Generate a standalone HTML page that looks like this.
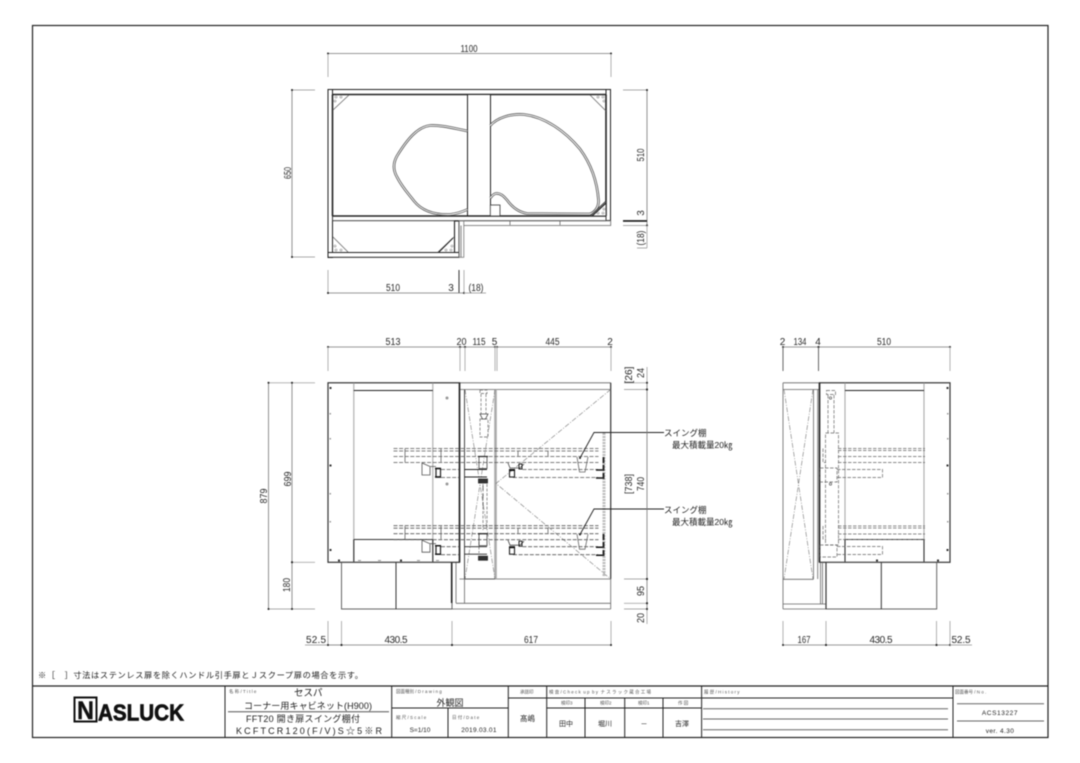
<!DOCTYPE html>
<html><head><meta charset="utf-8"><style>
html,body{margin:0;padding:0;background:#fff}
svg{display:block;filter:blur(.45px)}
text{font-family:"Liberation Sans","Noto Sans CJK JP",sans-serif;fill:#222}
.d{font-size:10px;text-anchor:middle;fill:#2a2a2a}
.s{font-size:4.5px;fill:#555}
.t{font-size:9px;text-anchor:middle}
.l{fill:none;stroke:#222;stroke-width:.9}
.m{fill:none;stroke:#666;stroke-width:.8}
.g{fill:none;stroke:#aaa;stroke-width:1.1}
.k{fill:none;stroke:#222;stroke-width:1.6}
.h{fill:none;stroke:#555;stroke-width:.8;stroke-dasharray:4 1.6}
.x{fill:none;stroke:#777;stroke-width:.6;stroke-dasharray:5 1.5 1 1.5}
.dim{fill:none;stroke:#777;stroke-width:.8;marker-start:url(#dot);marker-end:url(#dot)}
.ext{fill:none;stroke:#aaa;stroke-width:.9}
</style></head><body>
<svg xmlns="http://www.w3.org/2000/svg" width="1080" height="763" viewBox="0 0 1080 763">
<defs><marker id="dot" markerUnits="userSpaceOnUse" markerWidth="3" markerHeight="3" refX="1.5" refY="1.5"><circle cx="1.5" cy="1.5" r="1" fill="#222"/></marker></defs>
<rect width="1080" height="763" fill="#fff"/>
<rect x="32.5" y="25.5" width="1015.5" height="712" fill="none" stroke="#222" stroke-width="1.2"/>

<!-- TOP VIEW -->
<g>
<rect x="328" y="89.5" width="282.5" height="5" fill="#fff" stroke="#222" stroke-width="1"/>
<rect x="328" y="89.5" width="4.5" height="168" fill="#fff" stroke="#222" stroke-width="1"/>
<rect x="606" y="89.5" width="4.5" height="131" fill="#fff" stroke="#222" stroke-width="1"/>
<path class="k" d="M332.5 94.5H606M332.5 94.5V216M606 94.5V216"/>
<rect x="467.5" y="94.5" width="23" height="121.5" fill="#fff" stroke="#222" stroke-width="1"/>
<rect x="332.5" y="216" width="273.5" height="4.7" fill="#fff" stroke="#333" stroke-width=".9"/>
<path class="k" d="M332.5 216H606" stroke-width="1.2"/>
<rect x="454.5" y="221" width="4.5" height="31.5" fill="#fff" stroke="#222" stroke-width="1.1"/>
<rect x="328" y="252.5" width="131" height="4.8" fill="#fff" stroke="#222" stroke-width="1"/>
<path class="l" d="M332.5 221V252.5"/>
<rect x="459.2" y="221" width="4.6" height="36.3" fill="#fff" stroke="#777" stroke-width=".8"/>
<path class="m" d="M464 220.8H610.7V225.5H464M461 225.5V257"/>
<path d="M510 221v4M560 221v4" class="m"/>
<!-- shelf curves -->
<g fill="none" stroke-linejoin="round">
<path d="M467.3 131C452 128 442 125 430 125.5C418 127 408 138 397 156C393 163 393 170 397 177C402 187 407 192 414 201C422 211 434 215 450 214.5C458 213.5 462 212 467.3 209.5" stroke="#555" stroke-width="2.6"/>
<path d="M467.3 131C452 128 442 125 430 125.5C418 127 408 138 397 156C393 163 393 170 397 177C402 187 407 192 414 201C422 211 434 215 450 214.5C458 213.5 462 212 467.3 209.5" stroke="#fff" stroke-width="1"/>
<path d="M490.3 125.5C497 118 510 113.5 524 114.5C545 117 565 131 580 149C591 164 597 180 598.5 200C599 207 595 212 590 214L527 213.5C518 212 512 207 507 200C503 195 499 193 496 193.5C493 194 492 196 490.3 198" stroke="#555" stroke-width="2.6"/>
<path d="M490.3 125.5C497 118 510 113.5 524 114.5C545 117 565 131 580 149C591 164 597 180 598.5 200C599 207 595 212 590 214L527 213.5C518 212 512 207 507 200C503 195 499 193 496 193.5C493 194 492 196 490.3 198" stroke="#fff" stroke-width="1"/>
</g>
<rect x="490.3" y="205" width="9.7" height="11" fill="#fff" stroke="#333" stroke-width=".8"/>
<!-- corner brackets -->
<path class="m" d="M333 110L349 95M590 95L606 111M333 237L348 252M438 252L454 237"/>
<path d="M590 216L606 201V216Z" fill="#fff" stroke="#333" stroke-width=".9"/>
<path d="M592 216L606 203" stroke="#222" stroke-width="1.2"/>
<path d="M439 252L453 238" stroke="#222" stroke-width="1.1"/>
<g fill="none" stroke="#888" stroke-width=".6">
<circle cx="336" cy="97" r="1"/><circle cx="341" cy="97" r="1"/><circle cx="335" cy="101" r="1"/>
<circle cx="603" cy="97" r="1"/><circle cx="598" cy="97" r="1"/><circle cx="604" cy="101" r="1"/>
<circle cx="336" cy="250" r="1"/><circle cx="341" cy="250" r="1"/><circle cx="335" cy="246" r="1"/>
<circle cx="451" cy="250" r="1"/><circle cx="446" cy="250" r="1"/><circle cx="452" cy="246" r="1"/>
<circle cx="603" cy="213" r="1"/><circle cx="598" cy="213" r="1"/><circle cx="604" cy="209" r="1"/>
</g>
<!-- dims -->
<path class="dim" d="M328 53.5H611"/>
<path class="ext" d="M328 54V77M611 54V77M623 90H647M623 225.5H647M623 220.5H647M637 248H647"/>
<path class="dim" d="M647 90V225.5"/><path class="ext" d="M647 225.5V248"/>
<path d="M623 221H647" stroke="#111" stroke-width="1.5"/>
<path class="ext" d="M292 90H315M292 257H315"/><path class="dim" d="M292 90V257"/>
<path class="ext" d="M328 270V293M459 270V293M464 270V293"/>
<path d="M459 270V293" stroke="#333" stroke-width="1"/>
<path class="dim" d="M328 293H464"/><path class="ext" d="M464 293H486"/>
<text class="d" x="469" y="52" textLength="17" lengthAdjust="spacingAndGlyphs">1100</text>
<text class="d" transform="translate(292 173) rotate(-90)" y="-1" textLength="12" lengthAdjust="spacingAndGlyphs">650</text>
<text class="d" transform="translate(644 155) rotate(-90)" textLength="13" lengthAdjust="spacingAndGlyphs">510</text>
<text class="d" transform="translate(644 213) rotate(-90)">3</text>
<text class="d" transform="translate(644 238) rotate(-90)" textLength="15" lengthAdjust="spacingAndGlyphs">(18)</text>
<text class="d" x="393" y="291" textLength="14" lengthAdjust="spacingAndGlyphs">510</text>
<text class="d" x="451" y="291">3</text>
<text class="d" x="476" y="291" textLength="15" lengthAdjust="spacingAndGlyphs">(18)</text>
</g>

<!-- FRONT VIEW -->
<g>
<path class="m" d="M459.5 382.8H610.7M459.5 389.5H610.7" />
<path d="M610.7 382.8V579" stroke="#333" stroke-width="1.2" fill="none"/>
<path class="m" d="M459.5 579H610.7M456 603.3H610.7M452 609H610.7M610.7 579V609M464.5 579V603M456 562V603"/>
<path d="M464.5 389.5V579" stroke="#444" stroke-width="1" fill="none"/>
<path d="M495.5 389.5V579" stroke="#aaa" stroke-width="2.6" fill="none"/>
<path d="M464.5 579H495" stroke="#444" stroke-width=".8"/>
<path class="x" d="M610.7 389.5L496 483.5L610.7 579M465 389.5L495 579M495 389.5L465 579"/>
<rect x="328" y="382.8" width="131.5" height="179.5" fill="none" stroke="#333" stroke-width="1.2"/>
<path d="M459.5 382.8V562.3" stroke="#222" stroke-width="1.6"/>
<path class="g" d="M353.8 383V562M432.8 383V562"/>
<path class="l" d="M353.8 390.5H432.8"/>
<path d="M353.8 539.5H432.8M353.8 539.5V562M432.8 539.5V562" fill="none" stroke="#333" stroke-width="1.1"/>
<rect x="341.5" y="562.3" width="110.5" height="46.7" fill="none" stroke="#555" stroke-width=".9"/>
<path d="M396 562.3V609" stroke="#333" stroke-width="1"/>
<path d="M451.7 562.3V603" stroke="#222" stroke-width="1.6"/>
<g fill="#333">
<rect x="329.5" y="387" width="2" height="2"/><rect x="329.5" y="464.5" width="2" height="2"/><rect x="329.5" y="549" width="2" height="2"/>
<rect x="338" y="559.5" width="2" height="2"/><rect x="400" y="559.5" width="2" height="2"/>
</g>
<g fill="#999">
<rect x="329.5" y="413" width="1.5" height="1.5"/><rect x="329.5" y="438" width="1.5" height="1.5"/><rect x="329.5" y="493" width="1.5" height="1.5"/><rect x="329.5" y="521" width="1.5" height="1.5"/>
<circle cx="447" cy="398" r="1.5"/><circle cx="447" cy="484" r="1.5"/>
<rect x="358" y="560" width="3" height="1"/><rect x="378" y="560" width="3" height="1"/><rect x="417" y="560" width="3" height="1"/><rect x="436" y="560" width="3" height="1"/>
</g>
<!-- door mechanism column -->
<g fill="none" stroke="#666" stroke-width=".7" stroke-dasharray="3 1.5">
<rect x="480" y="390" width="7" height="3.5"/><path d="M481 394V414M486 394V414"/><rect x="480" y="419" width="8" height="18"/>
<path d="M483 484V530M487 484V530M479 533V553"/>
</g>
<path d="M480 414H488L485.5 419H482.5Z" fill="none" stroke="#444" stroke-width=".8"/>
<g id="shelf">
<path class="h" d="M393.5 448.5H598.5M393.5 451H598.5M393.5 456.5H598.5M393.5 462.5H598.5"/>
<path class="m" d="M405 449V462M441 449V462M518 451V456M548 451V456"/>
<path class="h" d="M441 469.5H459M441 477.5H459M522.5 469.5H598M513 477.5H598"/>
<path d="M464.5 469.5H487M464.5 477H487" stroke="#222" stroke-width=".9"/>
<path d="M422 463L430 466.5H436M422 463V475H430V467" fill="none" stroke="#555" stroke-width=".8"/>
<rect x="436" y="468.5" width="4.5" height="8.5" fill="none" stroke="#222" stroke-width="1.2"/>
<path d="M435 468.5H441M435 477H441" stroke="#111" stroke-width="1.4"/>
<path d="M508 463L510 468H520L524 464" fill="none" stroke="#444" stroke-width=".8"/>
<rect x="509.5" y="470" width="5" height="7" fill="none" stroke="#222" stroke-width="1.1"/>
<path d="M509 470H515" stroke="#111" stroke-width="2"/>
<rect x="519" y="464" width="3" height="5" fill="none" stroke="#222" stroke-width="1"/>
<path d="M577 457L579.5 472H585L588 457" fill="none" stroke="#666" stroke-width=".8"/>
<rect x="479" y="456.5" width="8" height="12" fill="none" stroke="#444" stroke-width=".8"/>
<path d="M478 456.5H488" stroke="#222" stroke-width="1.2"/>
<rect x="478.5" y="479" width="9" height="4" fill="#333" stroke="#222" stroke-width=".8"/>
<path d="M596 470H604M596 478H603" stroke="#111" stroke-width="1.5"/>
<path d="M603.5 457V480" stroke="#222" stroke-width="1.8" stroke-dasharray="6 2"/>
</g>
<use href="#shelf" y="77.2"/>
<path d="M604 433V576" stroke="#bbb" stroke-width="3" stroke-dasharray="2 1" fill="none"/>
<path d="M603.5 457V480M603.5 534V557" stroke="#222" stroke-width="1.8" stroke-dasharray="6 2" fill="none"/>
<path d="M483 486V510" stroke="#444" stroke-width=".7" stroke-dasharray="4 4"/>
<!-- leaders -->
<path class="l" d="M580 458L594 432.5H664M580 534.5L594 509H664" stroke-width=".8"/>
<circle cx="580" cy="458" r="1" fill="#222"/><circle cx="580" cy="534.5" r="1" fill="#222"/>
<text x="664" y="436" font-size="8.5">スイング棚</text>
<text x="672" y="448" font-size="8.5">最大積載量20㎏</text>
<text x="664" y="513" font-size="8.5">スイング棚</text>
<text x="672" y="525" font-size="8.5">最大積載量20㎏</text>
<!-- dims -->
<path class="dim" d="M328 347H460"/><path class="dim" d="M460 347H465"/><path class="dim" d="M465 347H495"/><path class="dim" d="M497 347H611"/>
<path d="M495 347H497" stroke="#777"/>
<path class="ext" d="M328 347V371M460 347V371M465 347V371M495 347V371M497 347V371M611 347V371"/>
<path class="ext" d="M268.5 382.8H315M292 562.3H315M268.5 609H315"/>
<path class="dim" d="M268.5 382.8V609"/><path class="dim" d="M292 382.8V562.3"/><path class="dim" d="M292 562.3V609"/>
<path class="ext" d="M624 382.8H647M624 389.5H647M624 579H647M624 603.3H647M624 609H647"/>
<path class="ext" d="M647 367V382.8M647 609V624"/>
<path class="dim" d="M647 382.8V389.5"/><path class="dim" d="M647 389.5V579"/><path class="dim" d="M647 579V603.3"/><path class="dim" d="M647 603.3V609"/>
<path class="ext" d="M328 621V645M341.5 621V645M452 621V645M611 621V645"/>
<path class="ext" d="M305 645H328"/><path class="dim" d="M328 645H341.5"/><path class="dim" d="M341.5 645H452"/><path class="dim" d="M452 645H611"/>
<text class="d" x="393" y="345" textLength="15" lengthAdjust="spacingAndGlyphs">513</text>
<text class="d" x="461.5" y="345" textLength="10" lengthAdjust="spacingAndGlyphs">20</text>
<text class="d" x="479" y="345" textLength="13" lengthAdjust="spacingAndGlyphs">115</text>
<text class="d" x="494.5" y="345">5</text>
<text class="d" x="552.5" y="345" textLength="14" lengthAdjust="spacingAndGlyphs">445</text>
<text class="d" x="610" y="345">2</text>
<text class="d" transform="translate(267 496) rotate(-90)" textLength="15" lengthAdjust="spacingAndGlyphs">879</text>
<text class="d" transform="translate(291 479) rotate(-90)" textLength="15" lengthAdjust="spacingAndGlyphs">699</text>
<text class="d" transform="translate(290 585) rotate(-90)" textLength="14" lengthAdjust="spacingAndGlyphs">180</text>
<text class="d" transform="translate(632 375) rotate(-90)" textLength="17" lengthAdjust="spacingAndGlyphs">[26]</text>
<text class="d" transform="translate(644 373) rotate(-90)" textLength="10" lengthAdjust="spacingAndGlyphs">24</text>
<text class="d" transform="translate(632 484) rotate(-90)" textLength="20" lengthAdjust="spacingAndGlyphs">[738]</text>
<text class="d" transform="translate(644 484) rotate(-90)" textLength="14" lengthAdjust="spacingAndGlyphs">740</text>
<text class="d" transform="translate(644 591) rotate(-90)" textLength="10" lengthAdjust="spacingAndGlyphs">95</text>
<text class="d" transform="translate(644 618) rotate(-90)" textLength="10" lengthAdjust="spacingAndGlyphs">20</text>
<text class="d" x="316" y="643" textLength="20" lengthAdjust="spacing">52.5</text>
<text class="d" x="396" y="643" textLength="23" lengthAdjust="spacing">430.5</text>
<text class="d" x="531" y="643" textLength="14" lengthAdjust="spacingAndGlyphs">617</text>
</g>

<!-- SIDE VIEW -->
<g>
<path class="m" d="M783 382.8H819M783 389.5H819M783 382.8V609M783 579.3H813.5M783 604H826M783 609H826M813.5 389.5V579.3M817.7 389.5V579"/>
<path class="x" d="M784 389.5L813 579M813 389.5L784 579"/>
<rect x="819.5" y="382.8" width="130.5" height="179.5" fill="none" stroke="#333" stroke-width="1.2"/>
<path d="M819.5 382.8V562.3" stroke="#222" stroke-width="1.6"/>
<path class="g" d="M845 383V562M924 383V562"/>
<path class="l" d="M845 390.5H924"/>
<path d="M845 539.5H924M845 539.5V562M924 539.5V562" fill="none" stroke="#333" stroke-width="1.1"/>
<rect x="826" y="562.3" width="110.7" height="46.7" fill="none" stroke="#555" stroke-width=".9"/>
<path d="M881.3 562.3V609" stroke="#333" stroke-width="1"/>
<path d="M826 562.3V609" stroke="#333" stroke-width="1.2"/>
<path class="m" d="M820.5 562.3V604M822.5 562.3V604"/>
<g fill="none" stroke="#666" stroke-width=".7" stroke-dasharray="3.5 1.5">
<rect x="826.5" y="390.5" width="9" height="4"/><path d="M828 395V433M834 395V433"/>
<rect x="825.5" y="433" width="13" height="112"/>
<path d="M838 448.5H925M838 450.5H925M838 456.5H925M838 462.5H925M838 526H925M838 528H925M838 534H925M838 539.5H925"/>
<path d="M823 448.5V462.5H826M823 526V539H826"/>
<rect x="820" y="468" width="17" height="14"/><path d="M837 469.5H882.5V477.5H837"/>
<rect x="820" y="545" width="17" height="12"/><path d="M837 546.5H882.5V554.5H837"/>
</g>
<circle cx="830.5" cy="398" r="1.2" fill="none" stroke="#555" stroke-width=".7"/><circle cx="830.5" cy="484" r="1.2" fill="none" stroke="#555" stroke-width=".7"/>
<g fill="#333"><rect x="946.5" y="387" width="2" height="2"/><rect x="946.5" y="464.5" width="2" height="2"/><rect x="946.5" y="549" width="2" height="2"/><rect x="876" y="559.5" width="2" height="2"/><rect x="937" y="559.5" width="2" height="2"/></g>
<g fill="#999"><rect x="947" y="413" width="1.5" height="1.5"/><rect x="947" y="438" width="1.5" height="1.5"/><rect x="947" y="493" width="1.5" height="1.5"/><rect x="947" y="521" width="1.5" height="1.5"/></g>
<path class="dim" d="M783 347H818.5"/><path class="dim" d="M818.5 347H950"/>
<path class="ext" d="M950 347V371M936.5 621V645M950 621V645"/>
<path d="M783 347V371M818.5 347V371" stroke="#666" stroke-width="1" fill="none"/>
<path class="ext" d="M783 621V645M826 621V645"/>
<path class="dim" d="M783 645H826"/><path class="dim" d="M826 645H936.5"/><path class="dim" d="M936.5 645H950"/><path class="ext" d="M950 645H972"/>
<text class="d" x="782.5" y="345">2</text>
<text class="d" x="800" y="345" textLength="13" lengthAdjust="spacingAndGlyphs">134</text>
<text class="d" x="818" y="345">4</text>
<text class="d" x="884" y="345" textLength="14" lengthAdjust="spacingAndGlyphs">510</text>
<text class="d" x="804" y="643" textLength="13" lengthAdjust="spacingAndGlyphs">167</text>
<text class="d" x="881" y="643" textLength="23" lengthAdjust="spacing">430.5</text>
<text class="d" x="961" y="643" textLength="19" lengthAdjust="spacing">52.5</text>
</g>

<!-- NOTE -->
<text x="38" y="678" font-size="8.2" textLength="325" lengthAdjust="spacing">※［　］寸法はステンレス扉を除くハンドル引手扉とＪスクープ扉の場合を示す。</text>

<!-- TITLE BLOCK -->
<g fill="none" stroke="#222" stroke-width="1">
<path d="M32 686H1048" stroke-width="1.2"/>
<path d="M225 686V737M391.7 686V737M508.3 686V737M546.7 686V737M701.6 686V737M953 686V737"/>
<path d="M392 708H508M448 708V737M508 698H953M546.7 708H701.6M585 698V737M624.7 698V737M663 698V737"/>
<path d="M228 711.7H389" stroke="#555"/>
<path d="M703 708.7H948M703 719H948M703 729.7H948M957 703.8H1044M957 721H1044" stroke="#666"/>
</g>
<!-- logo -->
<rect x="74.5" y="697.5" width="22" height="24" fill="#fff" stroke="#111" stroke-width="2"/>
<text x="77" y="719" font-size="25" font-weight="bold" textLength="17" lengthAdjust="spacingAndGlyphs" style="fill:#111;stroke:#111;stroke-width:.4;font-family:'Liberation Sans',sans-serif">N</text>
<text x="98" y="720.5" font-size="23" font-weight="bold" textLength="86" lengthAdjust="spacingAndGlyphs" style="fill:#111;stroke:#111;stroke-width:.7">ASLUCK</text>

<text class="s" x="229" y="693">名 称 / T i t l e</text>
<text x="294" y="696" font-size="9.5">セスパ</text>
<text class="t" x="308" y="709" textLength="128" lengthAdjust="spacing">コーナー用キャビネット(H900)</text>
<text class="t" x="303" y="722" textLength="114" lengthAdjust="spacing">FFT20 開き扉スイング棚付</text>
<text class="t" x="309" y="734" font-size="10" textLength="146" lengthAdjust="spacing">KCFTCR120(F/V)S☆5※R</text>
<text class="s" x="396" y="693">図面種別 / D r a w i n g</text>
<text class="t" x="450" y="706">外観図</text>
<text class="s" x="396" y="719">縮 尺 / S c a l e</text>
<text class="s" x="452" y="719">日 付 / D a t e</text>
<text x="420" y="732" font-size="6.5" text-anchor="middle">S=1/10</text>
<text x="479" y="732" font-size="6.5" text-anchor="middle" letter-spacing=".3">2019.03.01</text>
<text class="s" x="520" y="693.5">承認印</text>
<text class="s" x="549" y="693.5" xml:space="preserve">検 査 / C h e c k  u p  b y  ナ ス ラ ッ ク 蔵 合 工 場</text>
<text class="s" x="704" y="693.5">履 歴 / H i s t o r y</text>
<text class="s" x="955" y="693.5">図面番号 / N o .</text>
<text class="s" x="561" y="704.5">検印3</text>
<text class="s" x="600" y="704.5">検印2</text>
<text class="s" x="638" y="704.5">検印1</text>
<text class="s" x="678" y="704.5">作 図</text>
<text x="527.5" y="721" font-size="7.5" text-anchor="middle">髙嶋</text>
<text x="566" y="726" font-size="7" text-anchor="middle">田中</text>
<text x="605" y="726" font-size="7" text-anchor="middle">堀川</text>
<text x="644" y="726" font-size="7" text-anchor="middle">－</text>
<text x="682" y="726" font-size="7" text-anchor="middle">吉澤</text>
<text x="1000" y="715" font-size="6.5" text-anchor="middle" letter-spacing=".6">ACS13227</text>
<text x="1000" y="733" font-size="6.5" text-anchor="middle" letter-spacing=".4">ver. 4.30</text>
</svg>
</body></html>
